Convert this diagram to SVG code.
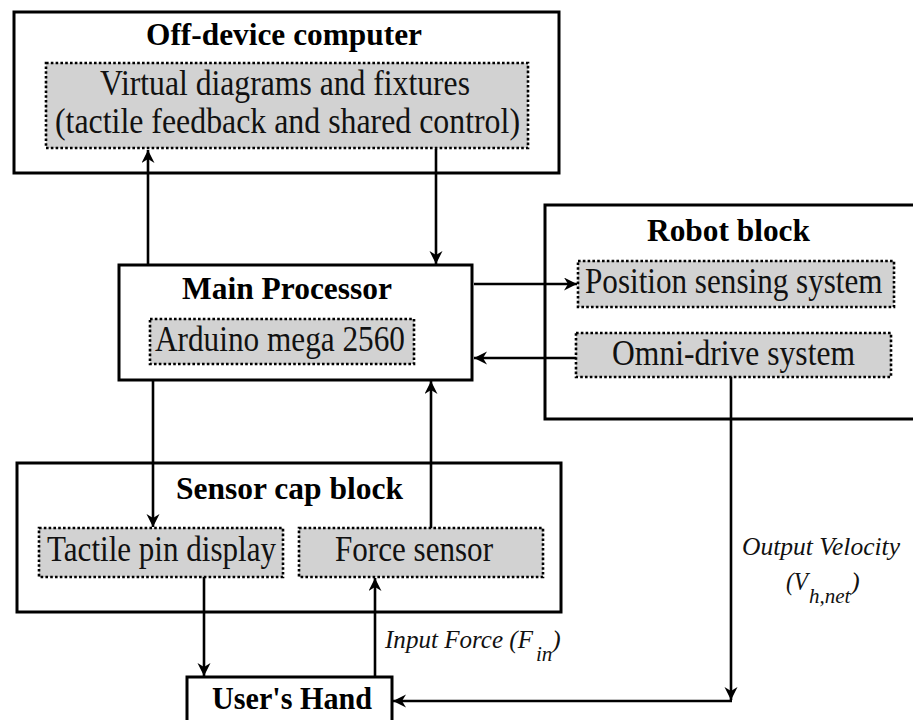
<svg xmlns="http://www.w3.org/2000/svg" width="913" height="720" viewBox="0 0 913 720">
  <style>
    .box { fill: #ffffff; stroke: #000000; stroke-width: 3; }
    .sub { fill: #d2d2d2; stroke: #000000; stroke-width: 2.6; stroke-dasharray: 2.6 2.2; }
    .title { font-family: "Liberation Serif", "Times New Roman", serif; font-weight: bold; font-size: 31px; fill: #000000; }
    .label { font-family: "Liberation Serif", "Times New Roman", serif; font-size: 36px; fill: #111111; }
    .note { font-family: "Liberation Serif", "Times New Roman", serif; font-style: italic; font-size: 26px; fill: #111111; }
    .note-sub { font-size: 21px; }
    .wire { fill: none; stroke: #000000; stroke-width: 2.6; }
  </style>
  <defs>
    <marker id="arrow" markerUnits="userSpaceOnUse" markerWidth="16" markerHeight="16" refX="13" refY="6.5" orient="auto">
      <path d="M0,0 L13,6.5 L0,13 L4,6.5 Z" fill="#000000"/>
    </marker>
  </defs>

  <rect width="913" height="720" fill="#ffffff"/>

  <!-- Off-device computer -->
  <g id="off-device-computer">
    <rect class="box" x="14" y="12" width="545" height="161"/>
    <text class="title" x="146" y="45" textLength="276" lengthAdjust="spacingAndGlyphs">Off-device computer</text>
    <rect class="sub" x="46" y="63" width="482" height="85"/>
    <text class="label" x="100" y="95" textLength="370" lengthAdjust="spacingAndGlyphs">Virtual diagrams and fixtures</text>
    <text class="label" x="55" y="133" textLength="465" lengthAdjust="spacingAndGlyphs">(tactile feedback and shared control)</text>
  </g>

  <!-- Main processor -->
  <g id="main-processor">
    <rect class="box" x="119" y="265" width="353" height="115"/>
    <text class="title" x="182" y="299" textLength="210" lengthAdjust="spacingAndGlyphs">Main Processor</text>
    <rect class="sub" x="150" y="319" width="264" height="45"/>
    <text class="label" x="155" y="351" textLength="250" lengthAdjust="spacingAndGlyphs">Arduino mega 2560</text>
  </g>

  <!-- Robot block (its right side runs past the edge) -->
  <g id="robot-block">
    <path class="box" d="M915,205 H545 V419 H915"/>
    <text class="title" x="647" y="241" textLength="163" lengthAdjust="spacingAndGlyphs">Robot block</text>
    <rect class="sub" x="578" y="261" width="316" height="46"/>
    <text class="label" transform="translate(585 293) scale(0.86 1)" x="0" y="0" font-size="35" textLength="346" lengthAdjust="spacingAndGlyphs">Position sensing system</text>
    <rect class="sub" x="576" y="333" width="315" height="44"/>
    <text class="label" x="612" y="365" textLength="243" lengthAdjust="spacingAndGlyphs">Omni-drive system</text>
  </g>

  <!-- Sensor cap block -->
  <g id="sensor-cap-block">
    <rect class="box" x="17" y="463" width="544" height="149"/>
    <text class="title" x="176" y="499" textLength="227" lengthAdjust="spacingAndGlyphs">Sensor cap block</text>
    <rect class="sub" x="39" y="528" width="244" height="49"/>
    <text class="label" x="47" y="561" textLength="229" lengthAdjust="spacingAndGlyphs">Tactile pin display</text>
    <rect class="sub" x="299" y="528" width="244" height="49"/>
    <text class="label" x="335" y="561" textLength="158" lengthAdjust="spacingAndGlyphs">Force sensor</text>
  </g>

  <!-- User's hand (cut by the bottom edge) -->
  <g id="users-hand">
    <rect class="box" x="187" y="677" width="205" height="60"/>
    <text class="title" x="212" y="709" textLength="160" lengthAdjust="spacingAndGlyphs">User's Hand</text>
  </g>

  <!-- Connectors -->
  <g id="connectors">
    <line class="wire" x1="148" y1="265" x2="148" y2="150" marker-end="url(#arrow)"/>
    <line class="wire" x1="436" y1="149" x2="436" y2="264" marker-end="url(#arrow)"/>
    <line class="wire" x1="474" y1="284" x2="577" y2="284" marker-end="url(#arrow)"/>
    <line class="wire" x1="576" y1="358" x2="474" y2="358" marker-end="url(#arrow)"/>
    <line class="wire" x1="153" y1="380" x2="153" y2="527" marker-end="url(#arrow)"/>
    <line class="wire" x1="431" y1="528" x2="431" y2="381" marker-end="url(#arrow)"/>
    <line class="wire" x1="204" y1="577" x2="204" y2="676" marker-end="url(#arrow)"/>
    <line class="wire" x1="375" y1="677" x2="375" y2="578" marker-end="url(#arrow)"/>
    <line class="wire" x1="731" y1="377" x2="731" y2="700" marker-end="url(#arrow)"/>
    <line class="wire" x1="732" y1="701" x2="393" y2="701" marker-end="url(#arrow)"/>
  </g>

  <!-- Signal labels -->
  <g id="signal-labels">
    <text class="note" x="385" y="648"><tspan textLength="148" lengthAdjust="spacingAndGlyphs">Input Force (F</tspan><tspan class="note-sub" x="536" y="661">in</tspan><tspan x="552" y="648">)</tspan></text>
    <text class="note" x="742" y="555" textLength="158" lengthAdjust="spacingAndGlyphs">Output Velocity</text>
    <text class="note" x="786" y="590"><tspan textLength="22" lengthAdjust="spacingAndGlyphs">(V</tspan><tspan class="note-sub" x="809" y="603">h,net</tspan><tspan x="851" y="590">)</tspan></text>
  </g>
</svg>
